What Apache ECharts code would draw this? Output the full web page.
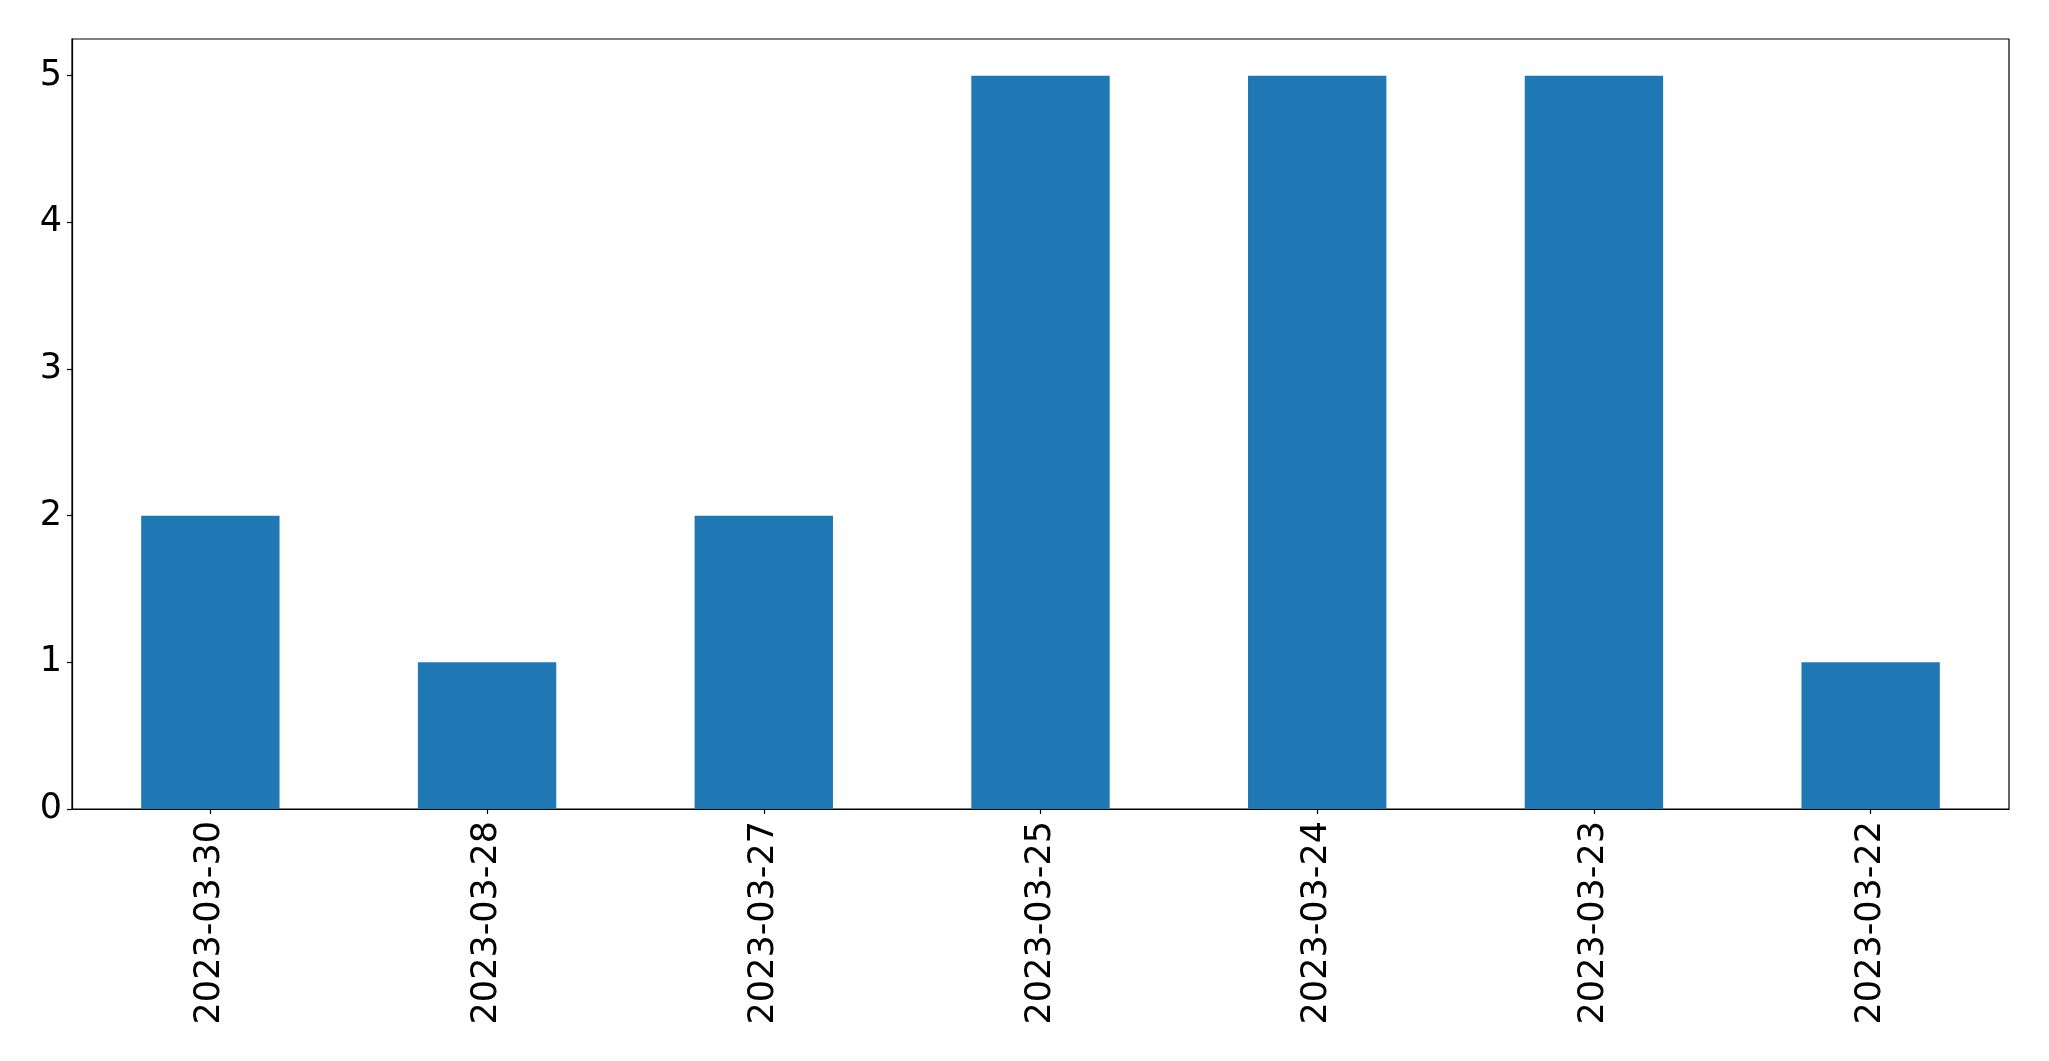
<!DOCTYPE html>
<html>
<head>
<meta charset="utf-8">
<script src="https://cdn.jsdelivr.net/npm/echarts@6/dist/echarts.min.js"></script>
<style>
html,body{margin:0;padding:0;background:#fff;}
#chart{width:2049px;height:1061px;}
</style>
</head>
<body>
<div id="chart"></div>
<script>
var categories = ['2023-03-30','2023-03-28','2023-03-27','2023-03-25','2023-03-24','2023-03-23','2023-03-22'];
var values = [2, 1, 2, 5, 5, 5, 1];
var yTicks = [0, 1, 2, 3, 4, 5];

var chart = echarts.init(document.getElementById('chart'));
var font = 'DejaVu Sans';
chart.setOption({
  animation: false,
  backgroundColor: '#ffffff',
  grid: {
    left: 72, top: 39, right: 40, bottom: 252,
    show: true, borderColor: '#000', borderWidth: 1.2,
    containLabel: false,
    outerBoundsMode: 'none'
  },
  xAxis: {
    type: 'category',
    data: categories,
    boundaryGap: true,
    axisLine: { show: true, lineStyle: { color: '#000', width: 1.2 } },
    axisTick: { show: true, alignWithLabel: true, length: 5, lineStyle: { color: '#000', width: 1.2 } },
    axisLabel: { rotate: 90, margin: 12, color: '#000', fontSize: 35, fontFamily: font, interval: 0, padding: [5, 0, 0, 0] },
    splitLine: { show: false }
  },
  yAxis: {
    type: 'value',
    min: 0, max: 5.25, interval: 1,
    axisLine: { show: true, lineStyle: { color: '#000', width: 1.2 } },
    axisTick: { show: true, length: 5, lineStyle: { color: '#000', width: 1.2 }, customValues: yTicks },
    axisLabel: { margin: 10, color: '#000', fontSize: 35, fontFamily: font, customValues: yTicks },
    splitLine: { show: false }
  },
  series: [{
    type: 'bar',
    data: values,
    barWidth: '50%',
    itemStyle: { color: '#1f77b4' }
  }]
});
</script>
</body>
</html>
